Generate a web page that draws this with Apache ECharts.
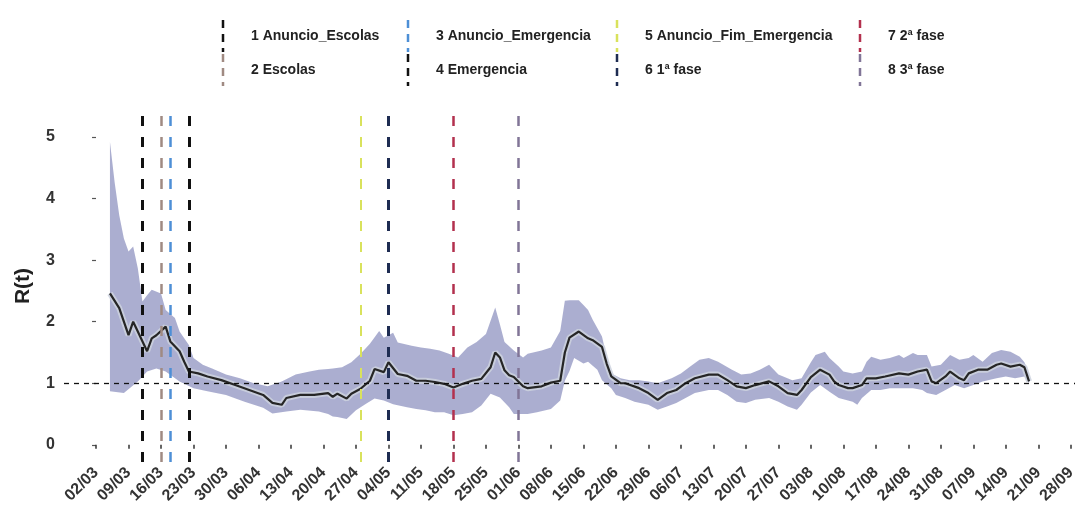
<!DOCTYPE html>
<html><head><meta charset="utf-8">
<script src="https://cdn.jsdelivr.net/npm/echarts@6/dist/echarts.min.js"></script>
<style>html,body{margin:0;padding:0;background:#fff}#c{width:1082px;height:530px}</style>
</head><body><div id="c"></div>
<script>
// x values are day offsets counted from 02/03/2020
const tickLabels = ['02/03','09/03','16/03','23/03','30/03','06/04','13/04','20/04','27/04','04/05','11/05','18/05','25/05','01/06','08/06','15/06','22/06','29/06','06/07','13/07','20/07','27/07','03/08','10/08','17/08','24/08','31/08','07/09','14/09','21/09','28/09'];
const tickDays = tickLabels.map((_, i) => i * 7);
const yTicks = [0, 1, 2, 3, 4, 5];

// R(t) central estimate
const meanDay = [3,5,7,8,9,11,12,13,15,16,18,19,20,22,24,27,30,33,36,38,40,41,44,47,50,51,52,54,55,57,59,60,62,63,65,67,69,71,73,75,77,79,81,83,85,86,87,88,89,90,92,93,96,98,100,101,102,104,106,107,109,110,111,113,114,117,119,121,123,125,127,129,132,134,136,138,140,142,145,147,149,151,152,154,156,158,159,160,162,163,165,166,168,170,173,175,177,179,180,181,183,184,186,187,188,190,192,194,195,197,199,200,201];
const meanR   = [2.46,2.22,1.78,2.00,1.84,1.52,1.73,1.78,1.92,1.68,1.52,1.35,1.19,1.16,1.11,1.05,0.97,0.89,0.81,0.68,0.65,0.76,0.81,0.81,0.84,0.78,0.83,0.75,0.83,0.91,1.04,1.23,1.18,1.34,1.15,1.12,1.04,1.04,1.02,0.99,0.93,0.99,1.04,1.07,1.26,1.50,1.42,1.21,1.13,1.10,0.95,0.92,0.95,1.01,1.04,1.50,1.74,1.84,1.73,1.70,1.59,1.32,1.11,1.00,1.00,0.92,0.84,0.73,0.84,0.89,1.00,1.08,1.14,1.14,1.05,0.95,0.92,0.97,1.03,0.95,0.84,0.81,0.89,1.10,1.22,1.14,1.03,0.97,0.92,0.92,0.97,1.08,1.08,1.11,1.16,1.14,1.19,1.22,1.03,1.00,1.11,1.19,1.08,1.05,1.16,1.22,1.22,1.30,1.32,1.27,1.30,1.26,1.03];

// upper bound of the interval
const upDay = [3,4,5,6,7,8,9,10,11,12,14,15,17,18,20,21,23,25,28,31,34,37,40,43,46,48,50,51,53,55,57,59,61,62,64,65,68,70,72,74,76,78,80,82,84,86,87,88,90,92,93,96,98,100,101,102,104,105,106,107,109,110,111,113,115,117,119,121,124,126,128,130,132,134,137,139,141,143,145,147,150,152,154,155,157,158,160,161,163,165,166,167,169,171,173,174,176,177,179,180,182,184,186,188,189,191,193,195,197,199,200,201];
const upR   = [4.92,4.27,3.73,3.35,3.14,3.22,2.87,2.33,2.43,2.52,2.46,2.19,2.06,1.84,1.62,1.41,1.30,1.24,1.14,1.08,1.00,0.95,1.03,1.14,1.19,1.22,1.23,1.24,1.26,1.34,1.48,1.64,1.85,1.74,1.82,1.66,1.61,1.58,1.56,1.53,1.48,1.42,1.58,1.67,1.80,2.23,1.96,1.67,1.53,1.42,1.48,1.53,1.58,1.85,2.34,2.35,2.35,2.27,2.19,2.03,1.76,1.43,1.16,1.08,1.05,1.05,1.03,1.00,1.08,1.16,1.27,1.38,1.41,1.35,1.22,1.14,1.16,1.22,1.30,1.14,1.05,1.08,1.34,1.46,1.51,1.41,1.27,1.19,1.16,1.19,1.35,1.43,1.38,1.41,1.46,1.41,1.49,1.46,1.46,1.27,1.30,1.46,1.38,1.41,1.46,1.35,1.49,1.54,1.51,1.43,1.34,1.14];

// lower bound of the interval
const loDay = [3,6,9,11,13,15,18,21,24,28,32,36,38,41,44,48,50,51,52,54,56,58,60,62,64,67,69,71,73,75,77,79,81,83,85,87,89,90,93,95,98,100,101,102,103,105,106,108,109,111,112,114,116,119,121,123,125,127,129,132,134,136,138,140,142,145,147,149,151,152,154,156,158,160,163,164,165,167,169,171,173,176,178,179,181,183,185,187,189,191,194,196,198,200,201];
const loR   = [0.87,0.84,1.03,1.19,1.24,1.19,1.03,0.92,0.87,0.81,0.70,0.60,0.51,0.54,0.57,0.54,0.50,0.46,0.45,0.42,0.56,0.66,0.75,0.72,0.66,0.61,0.58,0.56,0.53,0.53,0.48,0.50,0.53,0.64,0.83,0.77,0.61,0.50,0.50,0.53,0.58,0.72,1.04,1.20,1.41,1.32,1.35,1.22,1.05,0.92,0.81,0.76,0.70,0.65,0.57,0.62,0.68,0.76,0.84,0.89,0.89,0.81,0.70,0.68,0.73,0.76,0.70,0.62,0.57,0.65,0.85,0.97,0.86,0.76,0.70,0.65,0.76,0.89,0.89,0.92,0.92,0.92,0.89,0.84,0.81,0.89,0.97,0.92,0.97,1.03,1.08,1.11,1.08,1.11,1.00];

// intervention dates
const eventLabels = ['1 Anuncio_Escolas','2 Escolas','3 Anuncio_Emergencia','4 Emergencia','5 Anuncio_Fim_Emergencia','6 1ª fase','7 2ª fase','8 3ª fase'];
const eventDates  = ['12/03','16/03','18/03','22/03','28/04','04/05','18/05','01/06'];
const threshold = 1;

// ---------- styles / layout ----------
const eventColors = ['#111111','#a08a82','#4d8fd6','#111111','#d9e25c','#1e2c52','#b3304e','#817597'];
const eventWidths = [3,2.5,2.5,3,2,3,2.5,2.5];
const keyX = [223, 408, 617, 860];
const rowY = [36, 70];

function dayOf(ddmm){
  const [d,m] = ddmm.split('/').map(Number);
  const t = Date.UTC(2020, m-1, d), t0 = Date.UTC(2020, 2, 2);
  return Math.round((t - t0) / 86400000);
}
const eventDays = eventDates.map(dayOf);

const chart = echarts.init(document.getElementById('c'), null, {renderer:'canvas'});
const font = '"Liberation Sans", Arial, sans-serif';

const graphics = [];
eventLabels.forEach((lab, i) => {
  const col = Math.floor(i/2), row = i % 2;
  const x = keyX[col], y = rowY[row];
  graphics.push({type:'line', shape:{x1:x, y1:y-16, x2:x, y2:y+16},
    style:{stroke:eventColors[i], lineWidth:2.5, lineDash:[8,6]}});
  graphics.push({type:'text', x:x+28, y:y, style:{text:lab, font:'bold 14px ' + font,
    fill:'#222', textVerticalAlign:'middle', textAlign:'left'}});
});

const meanData = meanDay.map((d,i)=>[d, meanR[i]]);

const option = {
  animation:false,
  backgroundColor:'#fff',
  grid:{left:64, right:7, top:110, bottom:68},
  graphic: graphics,
  xAxis:{
    type:'value', min:-6.9, max:210.9,
    axisLine:{show:false},
    splitLine:{show:false},
    axisTick:{show:true, customValues:tickDays, length:4, lineStyle:{color:'#333', width:1.5}},
    axisLabel:{customValues:tickDays, rotate:45, margin:8, fontSize:16, fontWeight:'bold',
      fontFamily:font, color:'#333',
      formatter:(v)=>{ const i = tickDays.indexOf(Math.round(v)); return i>=0 ? tickLabels[i] : ''; }}
  },
  yAxis:{
    type:'value', min:-0.28, max:5.44,
    name:'R(t)', nameLocation:'middle', nameGap:30, nameRotate:90,
    nameTextStyle:{fontSize:21, fontWeight:'bold', fontFamily:font, color:'#222'},
    axisLine:{show:false},
    splitLine:{show:false},
    axisTick:{show:true, customValues:yTicks, length:4, lineStyle:{color:'#555', width:1.2}},
    axisLabel:{customValues:yTicks, margin:9, fontSize:16, fontWeight:'bold', fontFamily:font, color:'#333'}
  },
  series:[
    {
      type:'custom', silent:true, z:1,
      data:[[0,0]],
      renderItem:(params, api)=>{
        const pts = upDay.map((d,i)=>api.coord([d, upR[i]]));
        for (let i = loDay.length-1; i >= 0; i--) pts.push(api.coord([loDay[i], loR[i]]));
        return {type:'polygon', shape:{points:pts}, style:{fill:'#a7aacd', opacity:0.95}};
      }
    },
    {
      type:'line', z:2, silent:true,
      data: meanData,
      showSymbol:false, symbol:'none',
      lineStyle:{color:'rgba(205,210,222,0.85)', width:6}
    },
    {
      type:'line', z:3, silent:true,
      data: meanData,
      showSymbol:false, symbol:'none',
      lineStyle:{color:'#262626', width:2.2},
      markLine:{
        silent:true, symbol:'none', label:{show:false},
        lineStyle:{type:[5,5], color:'#111', width:1.3},
        data:[{yAxis:threshold}]
      }
    },
    {
      type:'line', z:4, silent:true, data:[],
      markLine:{
        silent:true, symbol:'none', label:{show:false},
        data: eventDays.map((d,i)=>({xAxis:d, lineStyle:{type:[10,11], color:eventColors[i], width:eventWidths[i]}}))
      }
    }
  ]
};
chart.setOption(option);
</script>
</body></html>
